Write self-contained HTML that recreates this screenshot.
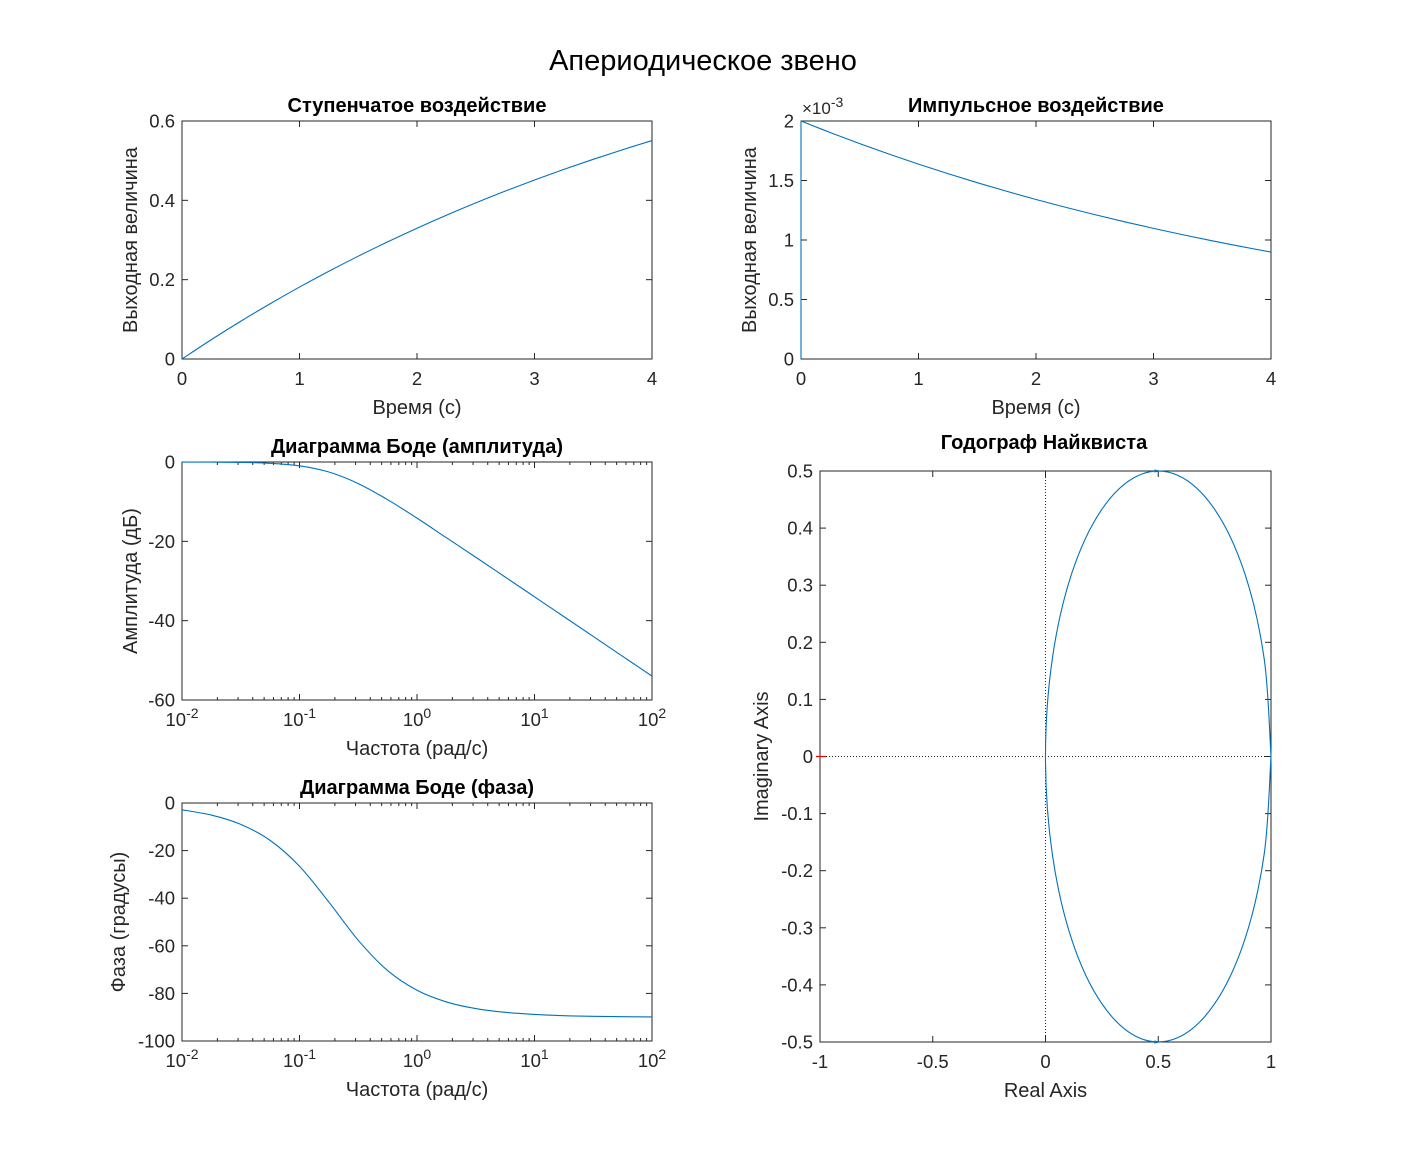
<!DOCTYPE html>
<html><head><meta charset="utf-8"><style>
html,body{margin:0;padding:0;background:#fff}
svg{display:block;font-family:"Liberation Sans",Arial,sans-serif}
</style></head><body>
<svg id="fig" width="1406" height="1172" viewBox="0 0 1406 1172">
<rect width="1406" height="1172" fill="#fff"/>
<text x="703" y="70" text-anchor="middle" font-size="29" fill="#000">Апериодическое звено</text>
</svg>
<script>
// ---- data ----
const stepT=[0,0.25,0.5,0.75,1,1.25,1.5,1.75,2,2.25,2.5,2.75,3,3.25,3.5,3.75,4];
const stepY=[0,0.0488,0.0952,0.1393,0.1813,0.2212,0.2592,0.2953,0.3297,0.3624,0.3935,0.4231,0.4512,0.4780,0.5034,0.5276,0.5507];
const impT=[0,0,0.25,0.5,0.75,1,1.25,1.5,1.75,2,2.25,2.5,2.75,3,3.25,3.5,3.75,4];
const impY=[0,2,1.9025,1.8097,1.7214,1.6375,1.5576,1.4816,1.4094,1.3406,1.2753,1.2131,1.1539,1.0976,1.0441,0.9932,0.9448,0.8987];
const bodeW=[0.01,0.01778,0.03162,0.05623,0.1,0.1778,0.3162,0.5623,1,1.778,3.162,5.623,10,17.78,31.62,56.23,100];
const bodeMag=[-0.011,-0.034,-0.107,-0.330,-0.969,-2.529,-5.441,-9.497,-14.15,-19.09,-24.01,-28.99,-33.98,-38.98,-43.98,-48.98,-53.98];
const bodePhase=[-2.86,-5.08,-8.98,-15.70,-26.57,-41.63,-57.69,-70.42,-78.69,-83.58,-86.38,-87.96,-88.85,-89.36,-89.64,-89.80,-89.89];
const nyqRe=[1,0.9698,0.8830,0.75,0.5868,0.4132,0.25,0.1170,0.0302,0,0.0302,0.1170,0.25,0.4132,0.5868,0.75,0.8830,0.9698,1];
const nyqIm=[0,-0.1710,-0.3214,-0.4330,-0.4924,-0.4924,-0.4330,-0.3214,-0.1710,0,0.1710,0.3214,0.4330,0.4924,0.4924,0.4330,0.3214,0.1710,0];
const linTicks4=[0,1,2,3,4];
const stepYTicks=[0,0.2,0.4,0.6];
const impYTicks=[0,0.5,1,1.5,2];
const logTicks=[-2,-1,0,1,2];
const magTicks=[-60,-40,-20,0];
const phaseTicks=[-100,-80,-60,-40,-20,0];
const nyqXTicks=[-1,-0.5,0,0.5,1];
const nyqYTicks=[-0.5,-0.4,-0.3,-0.2,-0.1,0,0.1,0.2,0.3,0.4,0.5];

const NS="http://www.w3.org/2000/svg";
const svg=document.getElementById('fig');
function el(tag,attrs,parent){const e=document.createElementNS(NS,tag);for(const k in attrs)e.setAttribute(k,attrs[k]);(parent||svg).appendChild(e);return e;}
function smoothPath(pts){
  let d=`M${pts[0][0]},${pts[0][1]}`;
  for(let i=0;i<pts.length-1;i++){
    const p0=pts[Math.max(i-1,0)],p1=pts[i],p2=pts[i+1],p3=pts[Math.min(i+2,pts.length-1)];
    const c1=[p1[0]+(p2[0]-p0[0])/6,p1[1]+(p2[1]-p0[1])/6];
    const c2=[p2[0]-(p3[0]-p1[0])/6,p2[1]-(p3[1]-p1[1])/6];
    d+=` C${c1[0].toFixed(2)},${c1[1].toFixed(2)} ${c2[0].toFixed(2)},${c2[1].toFixed(2)} ${p2[0].toFixed(2)},${p2[1].toFixed(2)}`;
  }
  return d;
}
function fmt(v){return String(Math.round(v*1000)/1000);}
function makeAxes(o){
  const g=el('g',{});
  
  
  const X=v=>{const a=o.xlog?Math.log10(v):v;return o.x0+(a-o.xmin)/(o.xmax-o.xmin)*(o.x1-o.x0);};
  const Y=v=>o.y1-(v-o.ymin)/(o.ymax-o.ymin)*(o.y1-o.y0);
  const tl=6, col='#262626';
  o.xticks.forEach(t=>{
    const px=o.xlog?o.x0+(t-o.xmin)/(o.xmax-o.xmin)*(o.x1-o.x0):X(t);
    el('line',{x1:px,y1:o.y1,x2:px,y2:o.y1-tl,stroke:col,'stroke-width':1},g);
    el('line',{x1:px,y1:o.y0,x2:px,y2:o.y0+tl,stroke:col,'stroke-width':1},g);
    const tx=el('text',{x:px,y:o.y1+26,'text-anchor':'middle','font-size':18.5,fill:col},g);
    
    
    if(o.xlog){tx.textContent='10';const s=el('tspan',{dy:-8,'font-size':14},tx);s.textContent=String(t);}
    else tx.textContent=fmt(t);
  });
  if(o.xlog){
    for(let e=o.xmin;e<o.xmax;e++)for(let m=2;m<10;m++){
      const px=o.x0+(e+Math.log10(m)-o.xmin)/(o.xmax-o.xmin)*(o.x1-o.x0);
      el('line',{x1:px,y1:o.y1,x2:px,y2:o.y1-3,stroke:col,'stroke-width':1},g);
      el('line',{x1:px,y1:o.y0,x2:px,y2:o.y0+3,stroke:col,'stroke-width':1},g);
    }
  }
  o.yticks.forEach(t=>{
    const py=Y(t);
    el('line',{x1:o.x0,y1:py,x2:o.x0+tl,y2:py,stroke:col,'stroke-width':1},g);
    el('line',{x1:o.x1,y1:py,x2:o.x1-tl,y2:py,stroke:col,'stroke-width':1},g);
    const tx=el('text',{x:o.x0-7,y:py+6.5,'text-anchor':'end','font-size':18.5,fill:col},g);
    
    
    tx.textContent=fmt(t);
  });
  el('rect',{x:o.x0,y:o.y0,width:o.x1-o.x0,height:o.y1-o.y0,fill:'none',stroke:col,'stroke-width':1},g);
  const ti=el('text',{x:o.titleX||(o.x0+o.x1)/2,y:o.titleY||(o.y0-9),'text-anchor':'middle','font-size':20,'font-weight':'bold',fill:'#000'},g);
  
  
  ti.textContent=o.title;
  const xl=el('text',{x:(o.x0+o.x1)/2,y:o.y1+55,'text-anchor':'middle','font-size':20,fill:col},g);
  
  
  xl.textContent=o.xlabel;
  const yc=(o.y0+o.y1)/2;
  const yl=el('text',{x:o.ylabelX,y:yc,'text-anchor':'middle','font-size':20,fill:col,transform:`rotate(-90 ${o.ylabelX} ${yc})`},g);
  
  
  yl.textContent=o.ylabel;
  return {g,X,Y};
}
function curve(ax,xs,ys,name,smooth){
  const pts=xs.map((x,i)=>[ax.X(x),ax.Y(ys[i])]);
  const p=el('path',{d:smooth?smoothPath(pts):'M'+pts.map(q=>q.join(',')).join(' L'),fill:'none',stroke:'#0072BD','stroke-width':1.1},ax.g);
  
  
  return p;
}
const a1=makeAxes({name:'step-response-axes',x0:182,x1:652,y0:121,y1:359,xmin:0,xmax:4,ymin:0,ymax:0.6,xticks:linTicks4,yticks:stepYTicks,title:'Ступенчатое воздействие',xlabel:'Время (с)',ylabel:'Выходная величина',ylabelX:137});
curve(a1,stepT,stepY,'step-response-line',true);
const a2=makeAxes({name:'impulse-response-axes',x0:801,x1:1271,y0:121,y1:359,xmin:0,xmax:4,ymin:0,ymax:2,xticks:linTicks4,yticks:impYTicks,title:'Импульсное воздействие',titleX:1036,xlabel:'Время (с)',ylabel:'Выходная величина',ylabelX:756});
curve(a2,impT.slice(1),impY.slice(1),'impulse-response-line',true);
const iv=el('line',{x1:a2.X(impT[0]),y1:a2.Y(impY[0]),x2:a2.X(impT[1]),y2:a2.Y(impY[1]),stroke:'#0072BD','stroke-width':1.1},a2.g);


const ex=el('text',{x:802,y:114,'font-size':17,fill:'#262626'});


ex.textContent='×10';
const exs=el('tspan',{dy:-7,'font-size':14},ex);exs.textContent='-3';
const a3=makeAxes({name:'bode-magnitude-axes',x0:182,x1:652,y0:462,y1:700,xlog:true,xmin:-2,xmax:2,ymin:-60,ymax:0,xticks:logTicks,yticks:magTicks,title:'Диаграмма Боде (амплитуда)',xlabel:'Частота (рад/с)',ylabel:'Амплитуда (дБ)',ylabelX:137});
curve(a3,bodeW,bodeMag,'bode-magnitude-line',true);
const a4=makeAxes({name:'bode-phase-axes',x0:182,x1:652,y0:803,y1:1041,xlog:true,xmin:-2,xmax:2,ymin:-100,ymax:0,xticks:logTicks,yticks:phaseTicks,title:'Диаграмма Боде (фаза)',xlabel:'Частота (рад/с)',ylabel:'Фаза (градусы)',ylabelX:125});
curve(a4,bodeW,bodePhase,'bode-phase-line',true);
const a5=makeAxes({name:'nyquist-axes',x0:820,x1:1271,y0:471,y1:1042,xmin:-1,xmax:1,ymin:-0.5,ymax:0.5,xticks:nyqXTicks,yticks:nyqYTicks,title:'Годограф Найквиста',titleX:1044,titleY:449,xlabel:'Real Axis',ylabel:'Imaginary Axis',ylabelX:768});
const dz1=el('line',{x1:a5.X(0),y1:471,x2:a5.X(0),y2:1042,stroke:'#262626','stroke-width':1,'stroke-dasharray':'1,2'},a5.g);

const dz2=el('line',{x1:820,y1:a5.Y(0),x2:1271,y2:a5.Y(0),stroke:'#262626','stroke-width':1,'stroke-dasharray':'1,2'},a5.g);

curve(a5,nyqRe,nyqIm,'nyquist-curve',true);
const cp=el('line',{x1:a5.X(-1)-4,y1:a5.Y(0),x2:a5.X(-1)+6,y2:a5.Y(0),stroke:'#e00','stroke-width':1.2},a5.g);

[[0.5,0.5,1],[0.5,-0.5,-1]].forEach(([x,y,s])=>{
  const px=a5.X(x),py=a5.Y(y);
  const ar=el('path',{d:`M${px-4},${py-1.5*s} L${px+4},${py} L${px-4},${py+1.5*s} Z`,fill:'#0072BD'},a5.g);
  
});
</script>
</body></html>
